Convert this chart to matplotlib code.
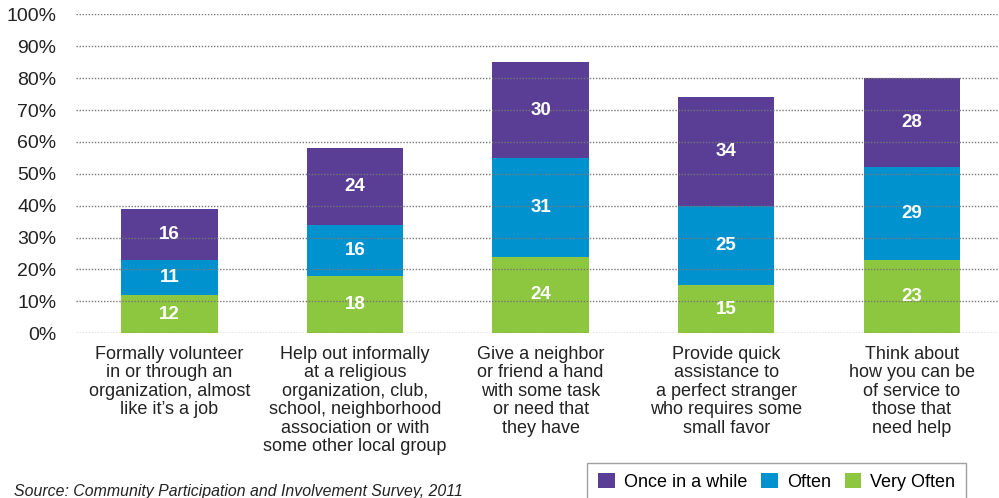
import numpy as np
import matplotlib
matplotlib.use("Agg")
from matplotlib import pyplot as plt
from matplotlib.patches import Patch

categories = ["Formally volunteer\nin or through an\norganization, almost\nlike it\u2019s a job",
              "Help out informally\nat a religious\norganization, club,\nschool, neighborhood\nassociation or with\nsome other local group",
              "Give a neighbor\nor friend a hand\nwith some task\nor need that\nthey have",
              "Provide quick\nassistance to\na perfect stranger\nwho requires some\nsmall favor",
              "Think about\nhow you can be\nof service to\nthose that\nneed help"]
very_often = [12, 18, 24, 15, 23]
often = [11, 16, 31, 25, 29]
once_in_a_while = [16, 24, 30, 34, 28]

series_names = ["Once in a while", "Often", "Very Often"]
colors = {"Very Often": "#8DC63F", "Often": "#0092CF", "Once in a while": "#5A3E96"}

plt.rcParams['font.family'] = ['Liberation Sans', 'DejaVu Sans']

fig = plt.figure(figsize=(9.99, 4.98), dpi=100)
ax = fig.add_axes([0.076, 0.331, 0.924, 0.64])

x = np.arange(len(categories))
width = 0.52
bottom = np.zeros(len(categories))
for name, vals in [("Very Often", very_often), ("Often", often),
                   ("Once in a while", once_in_a_while)]:
    vals = np.array(vals)
    ax.bar(x, vals, width, bottom=bottom, color=colors[name], zorder=1)
    for xi, b, v in zip(x, bottom, vals):
        ax.text(xi, b + v / 2, str(v), ha='center', va='center',
                color='white', fontsize=13.5, fontweight='bold', zorder=3)
    bottom += vals

ax.set_ylim(0, 100)
ax.set_xlim(-0.504, 4.47)
ax.set_yticks(np.arange(0, 101, 10))
ax.set_yticklabels(["%d%%" % v for v in range(0, 101, 10)], fontsize=14,
                   color='#222222')
ax.yaxis.grid(True, linestyle=(0, (1, 1.2)), color='#777777', linewidth=1.0,
              zorder=2)
ax.set_axisbelow(False)
ax.tick_params(axis='y', length=0, pad=14)
ax.tick_params(axis='x', length=0, pad=9)
ax.set_xticks(x)
ax.set_xticklabels(categories, fontsize=13, color='#222222',
                   linespacing=1.12, va='top')
for s in ax.spines.values():
    s.set_visible(False)

fig.text(0.014, 0.004, "Source: Community Participation and Involvement Survey, 2011",
         fontsize=11.4, style='italic', color='#222222')

handles = [Patch(facecolor=colors[n], edgecolor='none') for n in series_names]
leg = fig.legend(handles, series_names, loc='lower left',
                 bbox_to_anchor=(0.579, -0.026), ncol=3, fontsize=13,
                 frameon=True, fancybox=False, edgecolor='#888888',
                 handlelength=0.9, handleheight=0.9, handletextpad=0.5,
                 columnspacing=0.8, borderpad=0.6, shadow=False)
leg.get_frame().set_linewidth(1.0)

fig.savefig("out.png", dpi=100)
